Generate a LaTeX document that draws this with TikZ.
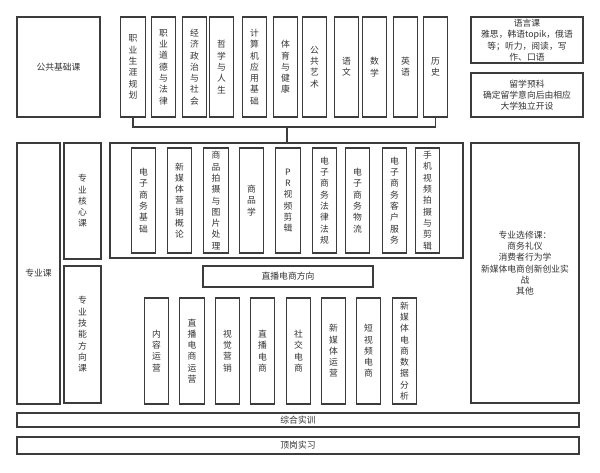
\documentclass[tikz,border=0pt]{standalone}
\usepackage{fontspec}
\setmainfont{Noto Sans CJK SC}
\definecolor{ln}{HTML}{3C3C3C}
\definecolor{tx}{HTML}{333333}
\begin{document}
\begin{tikzpicture}[x=1pt,y=-1pt,
  box/.style={draw=ln,line width=1.3pt,rectangle,inner sep=0pt,align=center,text=tx,
    font=\fontsize{8.8}{11.3}\selectfont},
  vbox/.style={box,minimum width=24.5pt},
  txt/.style={inner sep=0pt,align=center,text=tx,font=\fontsize{8.8}{11.3}\selectfont},
  conn/.style={draw=ln,line width=1.3pt}]
\useasboundingbox (0,0) rectangle (600,472);
% top row
\node[box,minimum width=83pt,minimum height=100pt] (pub) at (58.5,67) {公共基础课};
\node[vbox,minimum height=100pt] (t1) at (133,67) {职\\业\\生\\涯\\规\\划};
\node[vbox,minimum height=100pt] (t2) at (163.5,67) {职\\业\\道\\德\\与\\法\\律};
\node[vbox,minimum height=100pt] (t3) at (194.5,67) {经\\济\\政\\治\\与\\社\\会};
\node[vbox,minimum height=100pt] (t4) at (221.5,67) {哲\\学\\与\\人\\生};
\node[vbox,minimum height=100pt] (t5) at (254.5,67) {计\\算\\机\\应\\用\\基\\础};
\node[vbox,minimum height=100pt] (t6) at (285.5,67) {体\\育\\与\\健\\康};
\node[vbox,minimum height=100pt] (t7) at (314.5,67) {公\\共\\艺\\术};
\node[vbox,minimum height=100pt] (t8) at (346.5,67) {语\\文};
\node[vbox,minimum height=100pt] (t9) at (374.5,67) {数\\学};
\node[vbox,minimum height=100pt] (t10) at (405.5,67) {英\\语};
\node[vbox,minimum height=100pt] (t11) at (435.5,67) {历\\史};
\node[box,minimum width=112pt,minimum height=46pt] (lang) at (527,40) {语言课\\雅思，韩语topik，俄语\\等；听力，阅读，写\\作、口语};
\node[box,minimum width=112pt,minimum height=44pt] (prep) at (527,95) {留学预科\\确定留学意向后由相应\\大学独立开设};
% middle
\node[box,minimum width=43pt,minimum height=261pt] (zy) at (38.5,273.5) {专业课};
\node[box,minimum width=37pt,minimum height=116pt] (corelab) at (82.5,201) {专\\业\\核\\心\\课};
\node[box,minimum width=37pt,minimum height=137pt] (skilllab) at (82.5,334.5) {专\\业\\技\\能\\方\\向\\课};
\node[box,minimum width=353pt,minimum height=115pt] (core) at (286.5,200.5) {};
\node[vbox,minimum height=105pt] (c1) at (143.5,200.5) {电\\子\\商\\务\\基\\础};
\node[vbox,minimum height=105pt] (c2) at (179.5,200.5) {新\\媒\\体\\营\\销\\概\\论};
\node[vbox,minimum height=105pt] (c3) at (216,200.5) {商\\品\\拍\\摄\\与\\图\\片\\处\\理};
\node[vbox,minimum height=105pt] (c4) at (251.5,200.5) {商\\品\\学};
\node[vbox,minimum height=105pt] (c5) at (288,200.5) {P\\R\\视\\频\\剪\\辑};
\node[vbox,minimum height=105pt] (c6) at (324.5,200.5) {电\\子\\商\\务\\法\\律\\法\\规};
\node[vbox,minimum height=105pt] (c7) at (357.5,200.5) {电\\子\\商\\务\\物\\流};
\node[vbox,minimum height=105pt] (c8) at (394.5,200.5) {电\\子\\商\\务\\客\\户\\服\\务};
\node[vbox,minimum height=105pt] (c9) at (427.5,200.5) {手\\机\\视\\频\\拍\\摄\\与\\剪\\辑};
\node[box,minimum width=108pt,minimum height=260pt] (elec) at (525,273) {};
\node[txt] (electext) at (525,263) {专业选修课：\\商务礼仪\\消费者行为学\\新媒体电商创新创业实\\战\\其他};
\node[box,minimum width=170pt,minimum height=21pt] (dir) at (288,276.5) {直播电商方向};
\node[vbox,minimum height=106pt] (s1) at (156.5,351) {内\\容\\运\\营};
\node[vbox,minimum height=106pt] (s2) at (192,351) {直\\播\\电\\商\\运\\营};
\node[vbox,minimum height=106pt] (s3) at (227.5,351) {视\\觉\\营\\销};
\node[vbox,minimum height=106pt] (s4) at (262.5,351) {直\\播\\电\\商};
\node[vbox,minimum height=106pt] (s5) at (298.5,351) {社\\交\\电\\商};
\node[vbox,minimum height=106pt] (s6) at (333.5,351) {新\\媒\\体\\运\\营};
\node[vbox,minimum height=106pt] (s7) at (368.5,351) {短\\视\\频\\电\\商};
\node[vbox,minimum height=106pt] (s8) at (404.5,351) {新\\媒\\体\\电\\商\\数\\据\\分\\析};
% bottom
\node[box,minimum width=562pt,minimum height=14pt] (train) at (298,420) {综合实训};
\node[box,minimum width=562pt,minimum height=17pt] (intern) at (298,445.5) {顶岗实习};
% connectors
\coordinate (j) at (287,127);
\draw[conn] (t1.south) |- (j) -| (t11.south);
\draw[conn] (j) -- (j |- core.north);
\end{tikzpicture}
\end{document}
